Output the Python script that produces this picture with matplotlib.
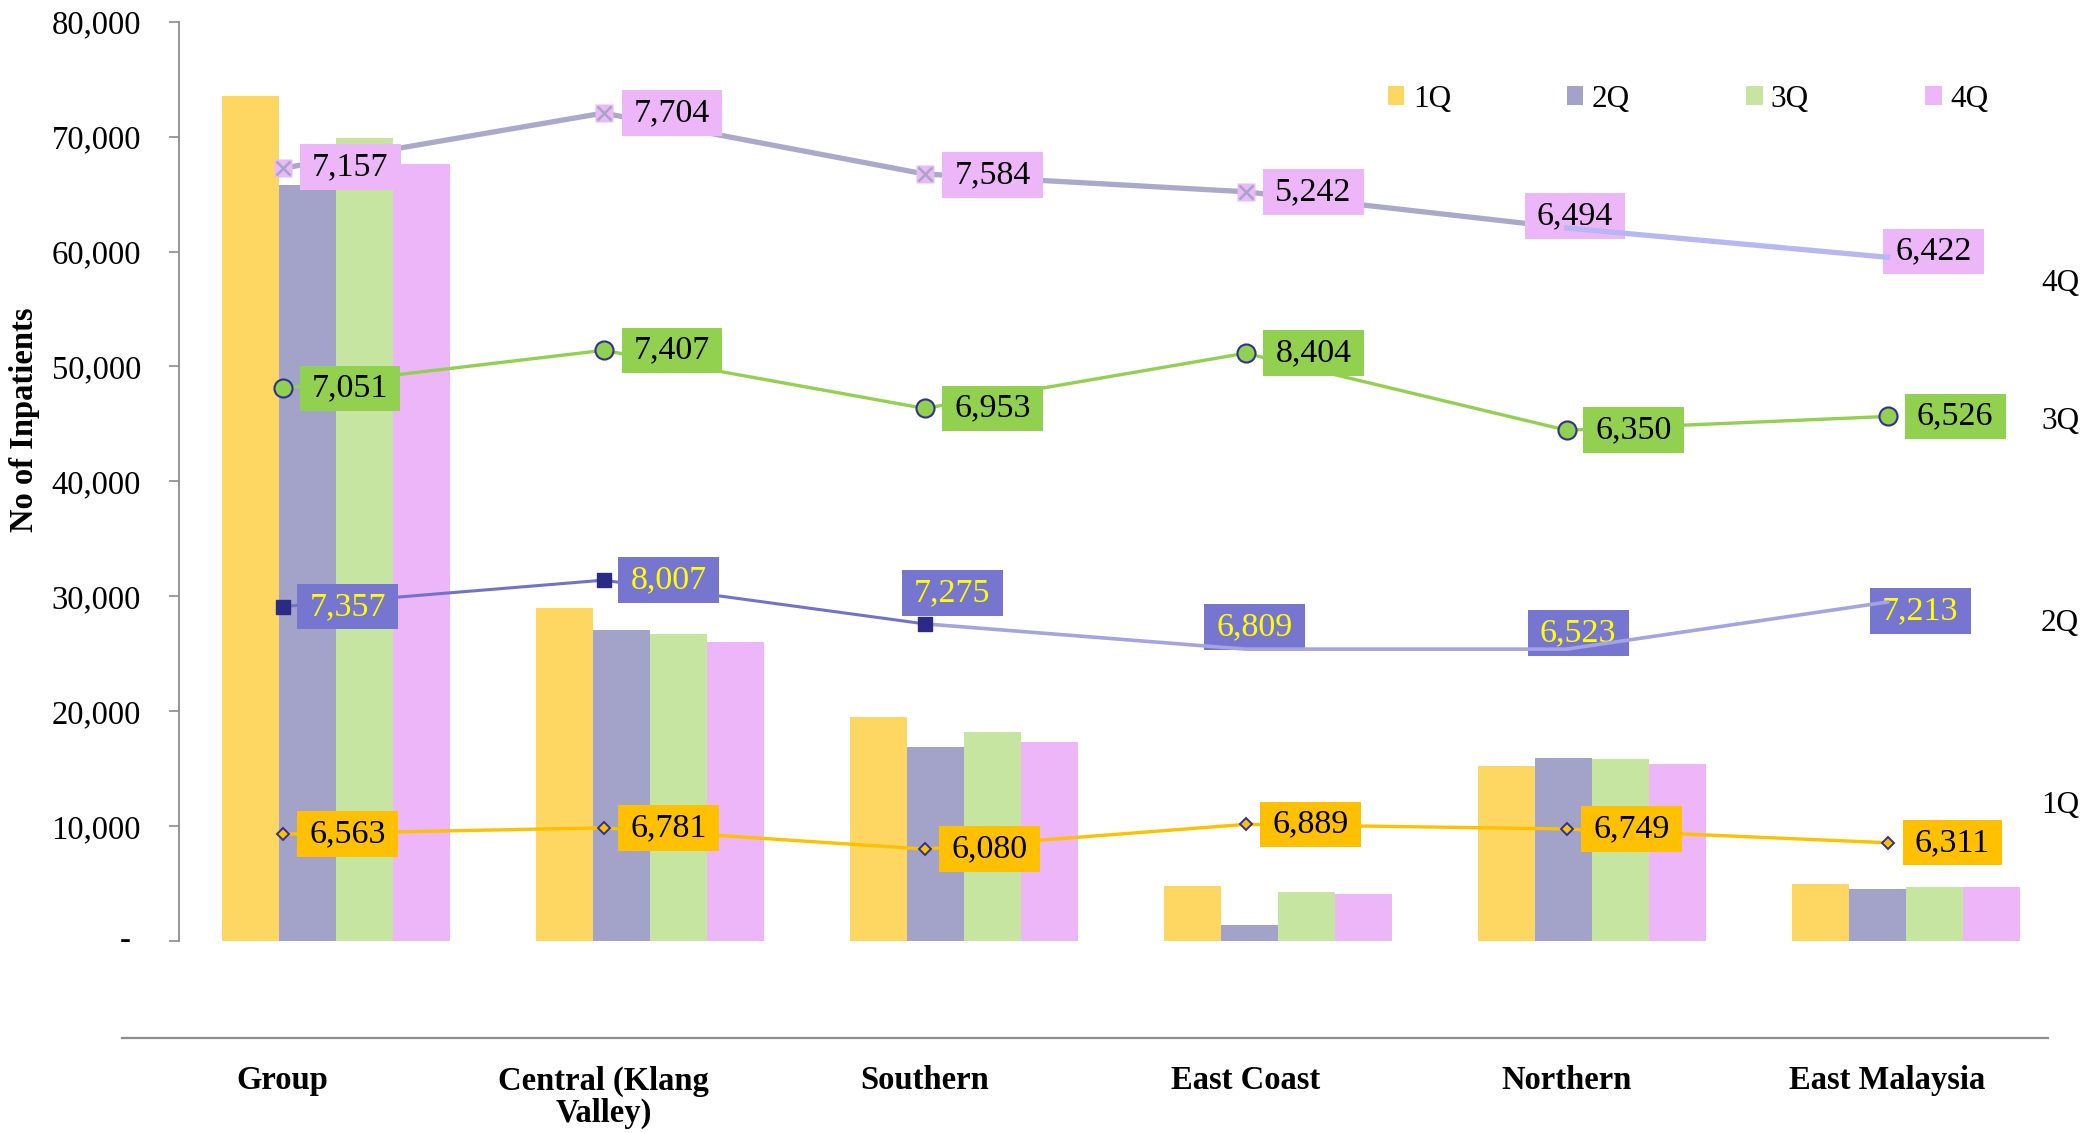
import matplotlib
matplotlib.use("Agg")
import matplotlib.pyplot as plt
import matplotlib.transforms as mtransforms
from matplotlib.path import Path
from matplotlib.ticker import FuncFormatter
import numpy as np

plt.rcParams['font.family'] = ['Liberation Serif', 'DejaVu Serif']

# ---------------- data ----------------
categories = ["Group", "Central (Klang\nValley)", "Southern", "East Coast", "Northern", "East Malaysia"]
quarters = ["1Q", "2Q", "3Q", "4Q"]

inpatients_1q = [73500, 29000, 19500, 4800, 15200, 5000]
inpatients_2q = [65800, 27100, 16900, 1400, 15900, 4500]
inpatients_3q = [69900, 26700, 18200, 4300, 15800, 4700]
inpatients_4q = [67600, 26000, 17300, 4100, 15400, 4700]

# level of each overlaid line, read on the left-hand scale
line_1q_level = [9300, 9850, 8000, 10150, 9750, 8550]
line_2q_level = [29100, 31400, 27600, 25400, 25400, 29500]
line_3q_level = [48100, 51400, 46350, 51150, 44450, 45650]
line_4q_level = [67250, 72050, 66750, 65200, 62050, 59500]

# values printed in the line labels
label_1q = [6563, 6781, 6080, 6889, 6749, 6311]
label_2q = [7357, 8007, 7275, 6809, 6523, 7213]
label_3q = [7051, 7407, 6953, 8404, 6350, 6526]
label_4q = [7157, 7704, 7584, 5242, 6494, 6422]

y_ticks = [0, 10000, 20000, 30000, 40000, 50000, 60000, 70000, 80000]

# ---------------- layout helpers ----------------
W, H = 2085, 1133
fig = plt.figure(figsize=(W / 100, H / 100), dpi=100)


def fx(px):
    return px / W


def fy(py):
    return 1 - py / H


bar_colors = ['#FED762', '#A3A3CA', '#C6E5A1', '#ECB6F8']

# ---------------- bar axes ----------------
ax = fig.add_axes([fx(178.6), fy(941), fx(2063) - fx(178.6), fy(21.7) - fy(941)])
x = np.arange(len(categories))
bw = 0.1815
for i, (vals, col, q) in enumerate(zip([inpatients_1q, inpatients_2q, inpatients_3q, inpatients_4q],
                                       bar_colors, quarters)):
    ax.bar(x + (i - 1.5) * bw, vals, bw, color=col, label=q, zorder=2, linewidth=0)

ax.set_xlim(-0.5, 5.5)
ax.set_ylim(0, 80000)
ax.set_xticks([])
ax.set_yticks(y_ticks)
ax.yaxis.set_major_formatter(FuncFormatter(lambda v, p: f"{v:,.0f}" if v else ""))
for s in ['top', 'right', 'bottom']:
    ax.spines[s].set_visible(False)
ax.spines['left'].set_color('#8C8C8C')
ax.spines['left'].set_linewidth(1.3)
ax.tick_params(axis='y', direction='out', length=7, width=1.2, color='#8C8C8C',
               labelsize=23.5, pad=20)
ax.text(-0.0285, 0, "-", transform=mtransforms.blended_transform_factory(ax.transAxes, ax.transData),
        ha='center', va='center', fontsize=23.5)

ax.legend(loc='center left', bbox_to_anchor=(fx(1387.5), fy(99)), bbox_transform=fig.transFigure,
          ncol=4, frameon=False, fontsize=22.5, handlelength=0.54, handleheight=0.54,
          handletextpad=0.27, columnspacing=3.7, borderpad=0, borderaxespad=0)

fig.text(fx(24.5), fy(420), "No of Inpatients", rotation=90, ha='center', va='center',
         fontsize=23.5, fontweight='bold')

# ---------------- line axes ----------------
ax2 = fig.add_axes([fx(122), fy(941), fx(2048) - fx(122), fy(21.7) - fy(941)])
ax2.patch.set_visible(False)
ax2.set_xlim(-0.5, 5.5)
ax2.set_ylim(0, 80000)
ax2.set_yticks([])
for s in ['top', 'right', 'left']:
    ax2.spines[s].set_visible(False)
ax2.spines['bottom'].set_position(('outward', 96.7 * 72 / 100))
ax2.spines['bottom'].set_color('#8C8C8C')
ax2.spines['bottom'].set_linewidth(1.6)
ax2.set_xticks(x)
ax2.set_xticklabels(categories, fontsize=23.5, fontweight='bold', linespacing=1.05)
ax2.tick_params(axis='x', length=0, pad=20)

# 1Q
ax2.plot(x, line_1q_level, color='#FFC000', lw=2.4, zorder=2, marker='D', ms=6,
         mfc='#FFC000', mec='#2E3192', mew=1.4)
# 2Q
ax2.plot(x[:3], line_2q_level[:3], color='#7272CC', lw=2.2, zorder=2)
ax2.plot(x[2:], line_2q_level[2:], color='#A4A4E2', lw=2.6, zorder=4)
ax2.plot(x[:3], line_2q_level[:3], ls='none', marker='s', ms=10, color='#2B2B86', zorder=5)
# 3Q
ax2.plot(x, line_3q_level, color='#92D050', lw=2.4, zorder=2, marker='o', ms=13,
         mfc='#92D050', mec='#2E3192', mew=1.5)
# 4Q
ax2.plot(x[:5], line_4q_level[:5], color='#A9A9CB', lw=3.8, zorder=2)
ax2.plot(x[4:], line_4q_level[4:], color='#B7B7F3', lw=3.8, zorder=4)
ax2.plot(x[:4], line_4q_level[:4], ls='none', marker='s', ms=13, mfc='#EBB8F8', mec='none', zorder=5)
ax2.plot(x[:4], line_4q_level[:4], ls='none', marker='x', ms=10, mew=1.8, color='#A5A5C5', zorder=6)


def label_box(x0, y0, width, height, mutation_size):
    px = 0.36 * mutation_size
    py = 0.22 * mutation_size
    a, b = x0 - px, y0 - py
    c, d = x0 + width + px, y0 + height + py
    return Path([(a, b), (c, b), (c, d), (a, d), (a, b)], closed=True)


label_specs = [
    (line_1q_level, label_1q, '#FFC000', 'black',
     [(65, 0), (65, 0), (65, 0), (65, 0), (65, 0), (65, 0)]),
    (line_2q_level, label_2q, '#7676D0', '#FFFF00',
     [(65, 0), (65, 0), (28, 31), (9, 22), (11.5, 16), (32.5, -9)]),
    (line_3q_level, label_3q, '#92D050', 'black',
     [(67.5, 0), (68.5, 0), (68, 0), (68, 0), (67, 0), (67.5, 0)]),
    (line_4q_level, label_4q, '#EDB6F9', 'black',
     [(67.5, 1), (68.5, 0), (68, -1), (68, 0), (8.5, 12), (46, 6)]),
]
for levels, labels, bg, fg, offs in label_specs:
    for xi, lv, lab, (dx, dy) in zip(x, levels, labels, offs):
        ax2.annotate(f"{lab:,}", xy=(xi, lv), xytext=(dx, dy), textcoords='offset pixels',
                     ha='center', va='center', fontsize=24.5, color=fg, zorder=3,
                     bbox=dict(boxstyle=label_box, fc=bg, ec='none'))

# series names on the right
for lab, py in zip(["4Q", "3Q", "2Q", "1Q"], [284, 422, 624, 806]):
    fig.text(fx(2041), fy(py), lab, ha='left', va='center', fontsize=22.5)

fig.savefig("out.png", dpi=100)
